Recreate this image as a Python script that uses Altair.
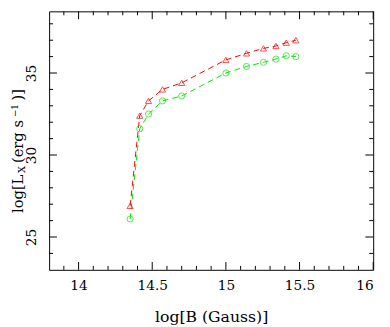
import altair as alt
import pandas as pd

# ---- data ----
B_vals = [14.35, 14.415, 14.475, 14.57, 14.70, 15.0, 15.14, 15.255, 15.34, 15.41, 15.475]
L_red = [26.9, 32.4, 33.3, 34.0, 34.4, 35.8, 36.2, 36.5, 36.65, 36.85, 37.0]
L_green = [26.1, 31.6, 32.5, 33.3, 33.6, 35.0, 35.4, 35.65, 35.85, 36.05, 36.0]
series = ["red", "green"]
series_colors = ["#ff0000", "#00e600"]
series_shapes = ["triangle-up", "circle"]

x_major = [14, 14.5, 15, 15.5, 16]
x_minor = [13.9, 14.1, 14.2, 14.3, 14.4, 14.6, 14.7, 14.8, 14.9,
           15.1, 15.2, 15.3, 15.4, 15.6, 15.7, 15.8, 15.9]
y_major = [25, 30, 35]
y_minor = [24, 26, 27, 28, 29, 31, 32, 33, 34, 36, 37, 38]

x_title = "log[B (Gauss)]"
y_title_parts = ["log[L", "X", "(erg s", "\u22121", ")]"]

# ---- layout ----
W, H = 331, 264
FONT = "DejaVu Serif"
xs = alt.Scale(domain=[13.8, 16], nice=False, zero=False)
ys = alt.Scale(domain=[23, 38.76], nice=False, zero=False)

x_axis = alt.Axis(values=x_major, format="~g", title=x_title, labelPadding=9, titlePadding=17,
                  labelFontSize=14, titleFontSize=16)
y_axis = alt.Axis(values=y_major, format="~g", title=None, labelAngle=270, labelAlign="center",
                  labelBaseline="bottom", labelPadding=11, labelFontSize=14)

n = len(B_vals)
df = pd.DataFrame({
    "B": B_vals * 2,
    "L": L_red + L_green,
    "s": [series[0]] * n + [series[1]] * n,
})

color = alt.Color("s:N", scale=alt.Scale(domain=series, range=series_colors), legend=None)

lines = alt.Chart(df).mark_line(strokeDash=[6, 4], strokeWidth=1).encode(
    x=alt.X("B:Q", scale=xs, axis=x_axis),
    y=alt.Y("L:Q", scale=ys, axis=y_axis),
    color=color, detail="s:N")

points = alt.Chart(df).mark_point(filled=False, strokeWidth=1, size=40).encode(
    x=alt.X("B:Q", scale=xs, axis=x_axis),
    y=alt.Y("L:Q", scale=ys, axis=y_axis),
    color=color,
    shape=alt.Shape("s:N", scale=alt.Scale(domain=series, range=series_shapes), legend=None),
)

def xticks(vals, length):
    d = pd.DataFrame({"v": vals})
    bot = alt.Chart(d).mark_rule(color="black", strokeWidth=1).encode(
        x=alt.X("v:Q", scale=xs, axis=x_axis), y=alt.value(H), y2=alt.value(H - length))
    top = alt.Chart(d).mark_rule(color="black", strokeWidth=1).encode(
        x=alt.X("v:Q", scale=xs, axis=x_axis), y=alt.value(0), y2=alt.value(length))
    return [bot, top]

def yticks(vals, length):
    d = pd.DataFrame({"v": vals})
    left = alt.Chart(d).mark_rule(color="black", strokeWidth=1).encode(
        y=alt.Y("v:Q", scale=ys, axis=y_axis), x=alt.value(0), x2=alt.value(length))
    right = alt.Chart(d).mark_rule(color="black", strokeWidth=1).encode(
        y=alt.Y("v:Q", scale=ys, axis=y_axis), x=alt.value(W), x2=alt.value(W - length))
    return [left, right]

tick_layers = xticks(x_major, 8) + xticks(x_minor, 4) + yticks(y_major, 8) + yticks(y_minor, 4)

# y-axis title pieces (rotated), with subscript and superscript
piece_specs = [
    (y_title_parts[0], 15, -27, 206),
    (y_title_parts[1], 10, -25, 165),
    (y_title_parts[2], 15, -27, 155),
    (y_title_parts[3], 9, -32, 108),
    (y_title_parts[4], 15, -27, 91),
]
title_layers = []
for txt, fs, px, py in piece_specs:
    title_layers.append(
        alt.Chart(pd.DataFrame({"t": [txt]})).mark_text(
            angle=270, align="left", baseline="alphabetic", font=FONT, fontSize=fs, color="black"
        ).encode(text="t:N", x=alt.value(px), y=alt.value(py))
    )

chart = alt.layer(lines, points, *tick_layers, *title_layers).properties(
    width=W, height=H,
    padding={"left": 42, "top": 0, "right": 9, "bottom": 55},
    autosize=alt.AutoSizeParams(type="none"),
).configure_view(
    stroke="black", strokeWidth=1
).configure_axis(
    domain=False, ticks=False, tickSize=0, grid=False,
    labelFont=FONT, titleFont=FONT, labelColor="black", titleColor="black",
    titleFontWeight="normal",
)

chart.save("out.html", embed_options={"renderer": "svg", "actions": False})
